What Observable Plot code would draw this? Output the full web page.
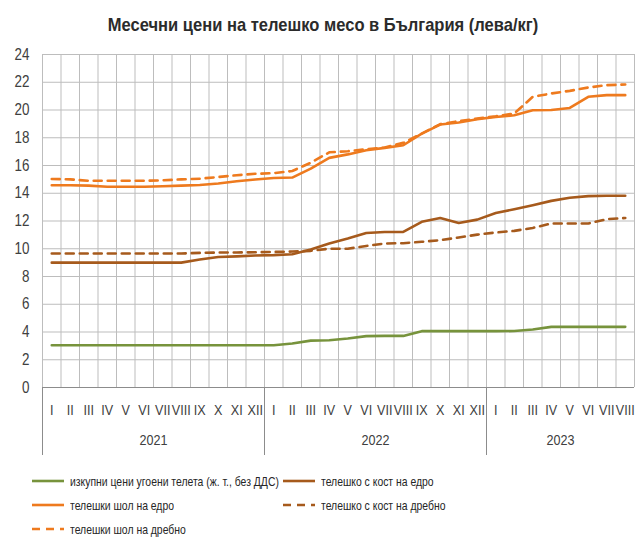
<!DOCTYPE html>
<html>
<head>
<meta charset="utf-8">
<script src="https://cdn.jsdelivr.net/npm/d3@7"></script>
<script src="https://cdn.jsdelivr.net/npm/@observablehq/plot@0.6"></script>
<style>
  html, body { margin: 0; padding: 0; background: #fff; }
  #wrap { position: relative; width: 635px; height: 538px; font-family: "Liberation Sans", Arial, sans-serif; color: #404040; }
  #title { position: absolute; left: 0; top: 13px; width: 646px; text-align: center; white-space: nowrap; font-weight: bold; font-size: 19px; line-height: 24px; color: #2b2b2b; transform: scaleX(0.87); transform-origin: 323px 0; }
  #chart { position: absolute; left: 0; top: 40px; }
  .leg { position: absolute; font-size: 13px; color: #262626; display: flex; align-items: center; white-space: nowrap; }
  .leg svg { margin-right: 6px; }
  .leg span { display: inline-block; transform: scaleX(0.8); transform-origin: 0 50%; }
</style>
</head>
<body>
<div id="wrap">
  <div id="title">Месечни цени на телешко месо в България (лева/кг)</div>
  <div id="chart"></div>
  <div id="legend"></div>
</div>
<script>
const monthNames = ["I","II","III","IV","V","VI","VII","VIII","IX","X","XI","XII"];
const years = ["2021", "2022", "2023"];
const monthsPerYear = [12, 12, 8];
const yTicks = [0, 2, 4, 6, 8, 10, 12, 14, 16, 18, 20, 22, 24];

const seriesNames = [
  "изкупни цени угоени телета (ж. т., без ДДС)",
  "телешко с кост на едро",
  "телешки шол на едро",
  "телешко с кост на дребно",
  "телешки шол на дребно"
];

const calves = [3.05,3.05,3.05,3.05,3.05,3.05,3.05,3.05,3.05,3.05,3.05,3.05,
                3.05,3.17,3.38,3.40,3.53,3.70,3.72,3.72,4.06,4.06,4.06,4.06,
                4.06,4.07,4.18,4.37,4.37,4.37,4.37,4.37];
const boneWholesale = [9.00,9.00,9.00,9.00,9.00,9.00,9.00,9.00,9.22,9.41,9.45,9.51,
                       9.54,9.60,9.94,10.38,10.74,11.14,11.21,11.21,11.94,12.22,11.86,12.10,
                       12.58,12.85,13.14,13.45,13.67,13.79,13.82,13.82];
const shankWholesale = [14.58,14.58,14.55,14.47,14.47,14.47,14.50,14.55,14.60,14.70,14.87,14.99,
                        15.10,15.13,15.78,16.55,16.80,17.10,17.27,17.46,18.30,18.95,19.10,19.34,
                        19.50,19.62,19.98,20.00,20.15,20.95,21.07,21.07];
const boneRetail = [9.66,9.66,9.66,9.66,9.66,9.66,9.66,9.66,9.70,9.73,9.73,9.75,
                    9.77,9.80,9.85,10.00,10.00,10.20,10.38,10.40,10.50,10.62,10.81,11.02,
                    11.17,11.29,11.50,11.82,11.82,11.82,12.13,12.22];
const shankRetail = [15.03,15.00,14.90,14.90,14.90,14.90,14.93,15.00,15.05,15.17,15.30,15.40,
                     15.45,15.60,16.20,16.95,17.03,17.17,17.30,17.63,18.30,18.98,19.20,19.38,
                     19.55,19.75,20.95,21.19,21.38,21.62,21.79,21.84];

const colors = ["#77933C", "#A65A1C", "#EE7A1E", "#A65A1C", "#EE7A1E"];
const dashed = [false, false, false, true, true];
const seriesValues = [calves, boneWholesale, shankWholesale, boneRetail, shankRetail];

// month labels
const monthLabels = [];
monthsPerYear.forEach(n => { for (let i = 0; i < n; i++) monthLabels.push(monthNames[i]); });
const nMonths = monthLabels.length;

// year starts & centers
const yearStarts = [];
let acc = 0;
monthsPerYear.forEach(n => { yearStarts.push(acc); acc += n; });
const yearData = years.map((y, i) => ({label: y, x: yearStarts[i] + monthsPerYear[i] / 2}));

const rows = [];
seriesValues.forEach((vals, s) => vals.forEach((v, i) => rows.push({s, x: i + 0.5, v})));

const gridColor = "#bdbdbd";
const lineMarks = seriesValues.map((vals, s) =>
  Plot.line(rows.filter(r => r.s === s), {
    x: "x", y: "v", stroke: colors[s], strokeWidth: 2.6,
    strokeDasharray: dashed[s] ? "8,6" : null, curve: "linear"
  })
);

const chart = Plot.plot({
  width: 635, height: 420,
  marginTop: 14, marginLeft: 42, marginRight: 1, marginBottom: 73,
  style: {fontFamily: '"Liberation Sans", Arial, sans-serif', fontSize: "14px", color: "#404040", background: "transparent"},
  x: {type: "linear", domain: [0, nMonths]},
  y: {domain: [0, 24]},
  marks: [
    Plot.ruleY(yTicks, {stroke: gridColor, strokeWidth: 1}),
    Plot.ruleX(d3.range(0, nMonths + 1), {stroke: gridColor, strokeWidth: 1}),
    lineMarks[0], lineMarks[3], lineMarks[4], lineMarks[1], lineMarks[2],
    Plot.ruleY([0], {stroke: "#8c8c8c", strokeWidth: 1}),
    Plot.ruleX(yearStarts, {y1: 0, y2: 0, insetBottom: -68, stroke: "#8c8c8c", strokeWidth: 1}),
    Plot.axisY(yTicks, {tickSize: 0, tickPadding: 13, label: null, fill: "#404040", fontSize: 16, className: "condensed"}),
    Plot.axisX(d3.range(nMonths).map(i => i + 0.5), {
      tickSize: 0, tickPadding: 17, label: null, fill: "#404040", fontSize: 15,
      tickFormat: d => monthLabels[Math.floor(d)]
    }),
    Plot.text(yearData, {x: "x", text: "label", frameAnchor: "bottom", dy: 57, fill: "#404040", fontSize: 15})
  ]
});
// condense axis and year labels like the narrow font of the original
chart.querySelectorAll("text").forEach(t => {
  const tr = t.getAttribute("transform");
  if (tr) t.setAttribute("transform", tr + " scale(0.84,1)");
});
document.getElementById("chart").appendChild(chart);

// legend
const legPos = [
  {left: 32, top: 472},
  {left: 283, top: 472},
  {left: 32, top: 496},
  {left: 283, top: 496},
  {left: 32, top: 520}
];
const legend = document.getElementById("legend");
seriesNames.forEach((name, s) => {
  const d = document.createElement("div");
  d.className = "leg";
  d.style.left = legPos[s].left + "px";
  d.style.top = legPos[s].top + "px";
  d.innerHTML = `<svg width="32" height="18"><line x1="0" x2="32" y1="9" y2="9" stroke="${colors[s]}" stroke-width="2.6" ${dashed[s] ? 'stroke-dasharray="8,6"' : ''}/></svg><span>${name}</span>`;
  legend.appendChild(d);
});
</script>
</body>
</html>
